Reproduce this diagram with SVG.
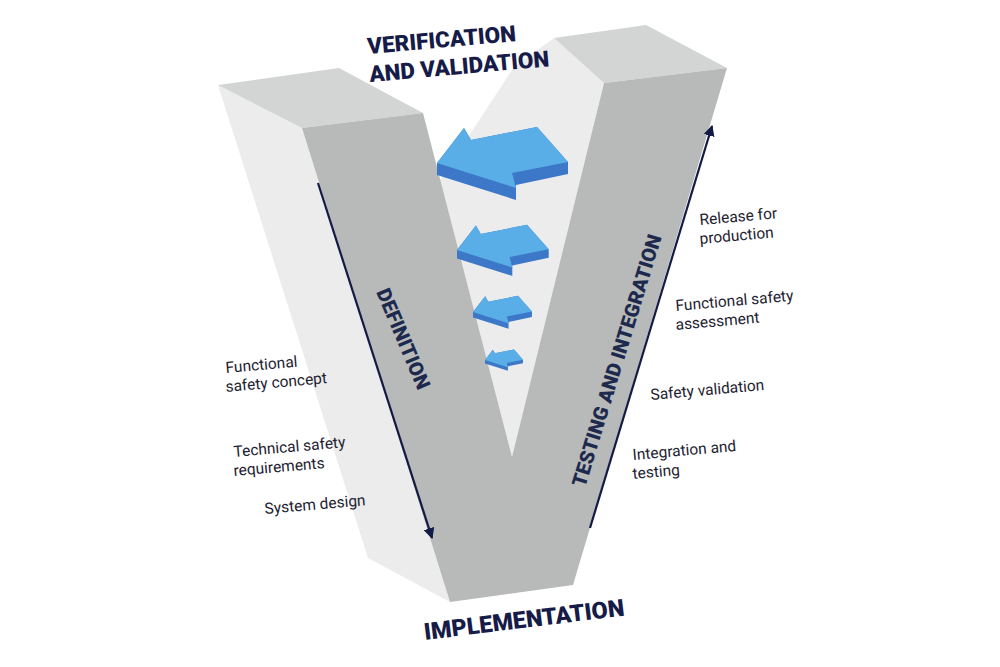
<svg xmlns="http://www.w3.org/2000/svg" width="1000" height="667" viewBox="0 0 1000 667">
<style>
.h{font-family:Roboto,"Liberation Sans",sans-serif;font-weight:900;fill:#161b47;font-size:22.5px}
.v{font-family:Roboto,"Liberation Sans",sans-serif;font-weight:900;fill:#1d2a4e;font-size:20px}
.l{font-family:Roboto,"Liberation Sans",sans-serif;fill:#1e2230;font-size:15.5px}
.top{fill:#d3d4d4}.side{fill:#ececed}.front{fill:#b8baba}
.at{fill:#5aaee8}.ad{fill:#3d78c8}
</style>
<defs>
<marker id="m" viewBox="0 0 10 10" refX="9" refY="5" markerWidth="5" markerHeight="5" orient="auto"><path d="M0,0L10,5L0,10z" fill="#131a45"/></marker>
<g id="arr">
<path class="ad" d="M0,0L27,-35L34,-23L100,-36L131,-1L131,11L79,22L79,37L0,12Z"/>
<path class="at" d="M0,0L27,-35L34,-23L100,-36L131,-1L75,10L79,25Z"/>
</g>
</defs>
<rect width="1000" height="667" fill="#fff"/>
<g id="v-shape">
<polygon class="side" points="514,67 554,38 604,83 512,457 440,180"/>
<polygon class="top" points="554,38 646,25 727,68 604,83"/>
<polygon class="side" points="218,85 302,128 450,602 368,558"/>
<polygon class="top" points="218,85 339,68 423,113 302,128"/>
<polygon class="front" points="302,128 423,113 512,457 604,83 727,68 573,585 450,602"/>
</g>
<g id="vv-arrows">
<use href="#arr" transform="translate(437,163)"/>
<use href="#arr" transform="translate(457,250) scale(0.7)"/>
<use href="#arr" transform="translate(473,312) scale(0.45)"/>
<use href="#arr" transform="translate(485,360) scale(0.29)"/>
</g>
<g id="connectors" stroke="#131a45" stroke-width="2.2" fill="none">
<line x1="318" y1="183" x2="432" y2="538" marker-end="url(#m)"/>
<line x1="590" y1="528" x2="712" y2="126" marker-end="url(#m)"/>
</g>
<g id="titles">
<text class="h" transform="translate(368,54) rotate(-5)">VERIFICATION</text>
<text class="h" transform="translate(370,82) rotate(-5)">AND VALIDATION</text>
<text class="h" style="font-size:23.5px" transform="translate(425,640) rotate(-7)">IMPLEMENTATION</text>
<text class="v" transform="translate(376,292) rotate(67)">DEFINITION</text>
<text class="v" transform="translate(585,488) rotate(-73)">TESTING AND INTEGRATION</text>
</g>
<g id="labels">
<text class="l" transform="translate(226,373) rotate(-5)">Functional</text>
<text class="l" transform="translate(226,392) rotate(-5)">safety concept</text>
<text class="l" transform="translate(234,457) rotate(-5)">Technical safety</text>
<text class="l" transform="translate(234,476) rotate(-5)">requirements</text>
<text class="l" transform="translate(265,514) rotate(-5)">System design</text>
<text class="l" transform="translate(700,225) rotate(-5)">Release for</text>
<text class="l" transform="translate(700,244) rotate(-5)">production</text>
<text class="l" transform="translate(676,311) rotate(-5)">Functional safety</text>
<text class="l" transform="translate(676,330) rotate(-5)">assessment</text>
<text class="l" transform="translate(651,400) rotate(-5)">Safety validation</text>
<text class="l" transform="translate(633,460) rotate(-5)">Integration and</text>
<text class="l" transform="translate(633,479) rotate(-5)">testing</text>
</g>
</svg>
